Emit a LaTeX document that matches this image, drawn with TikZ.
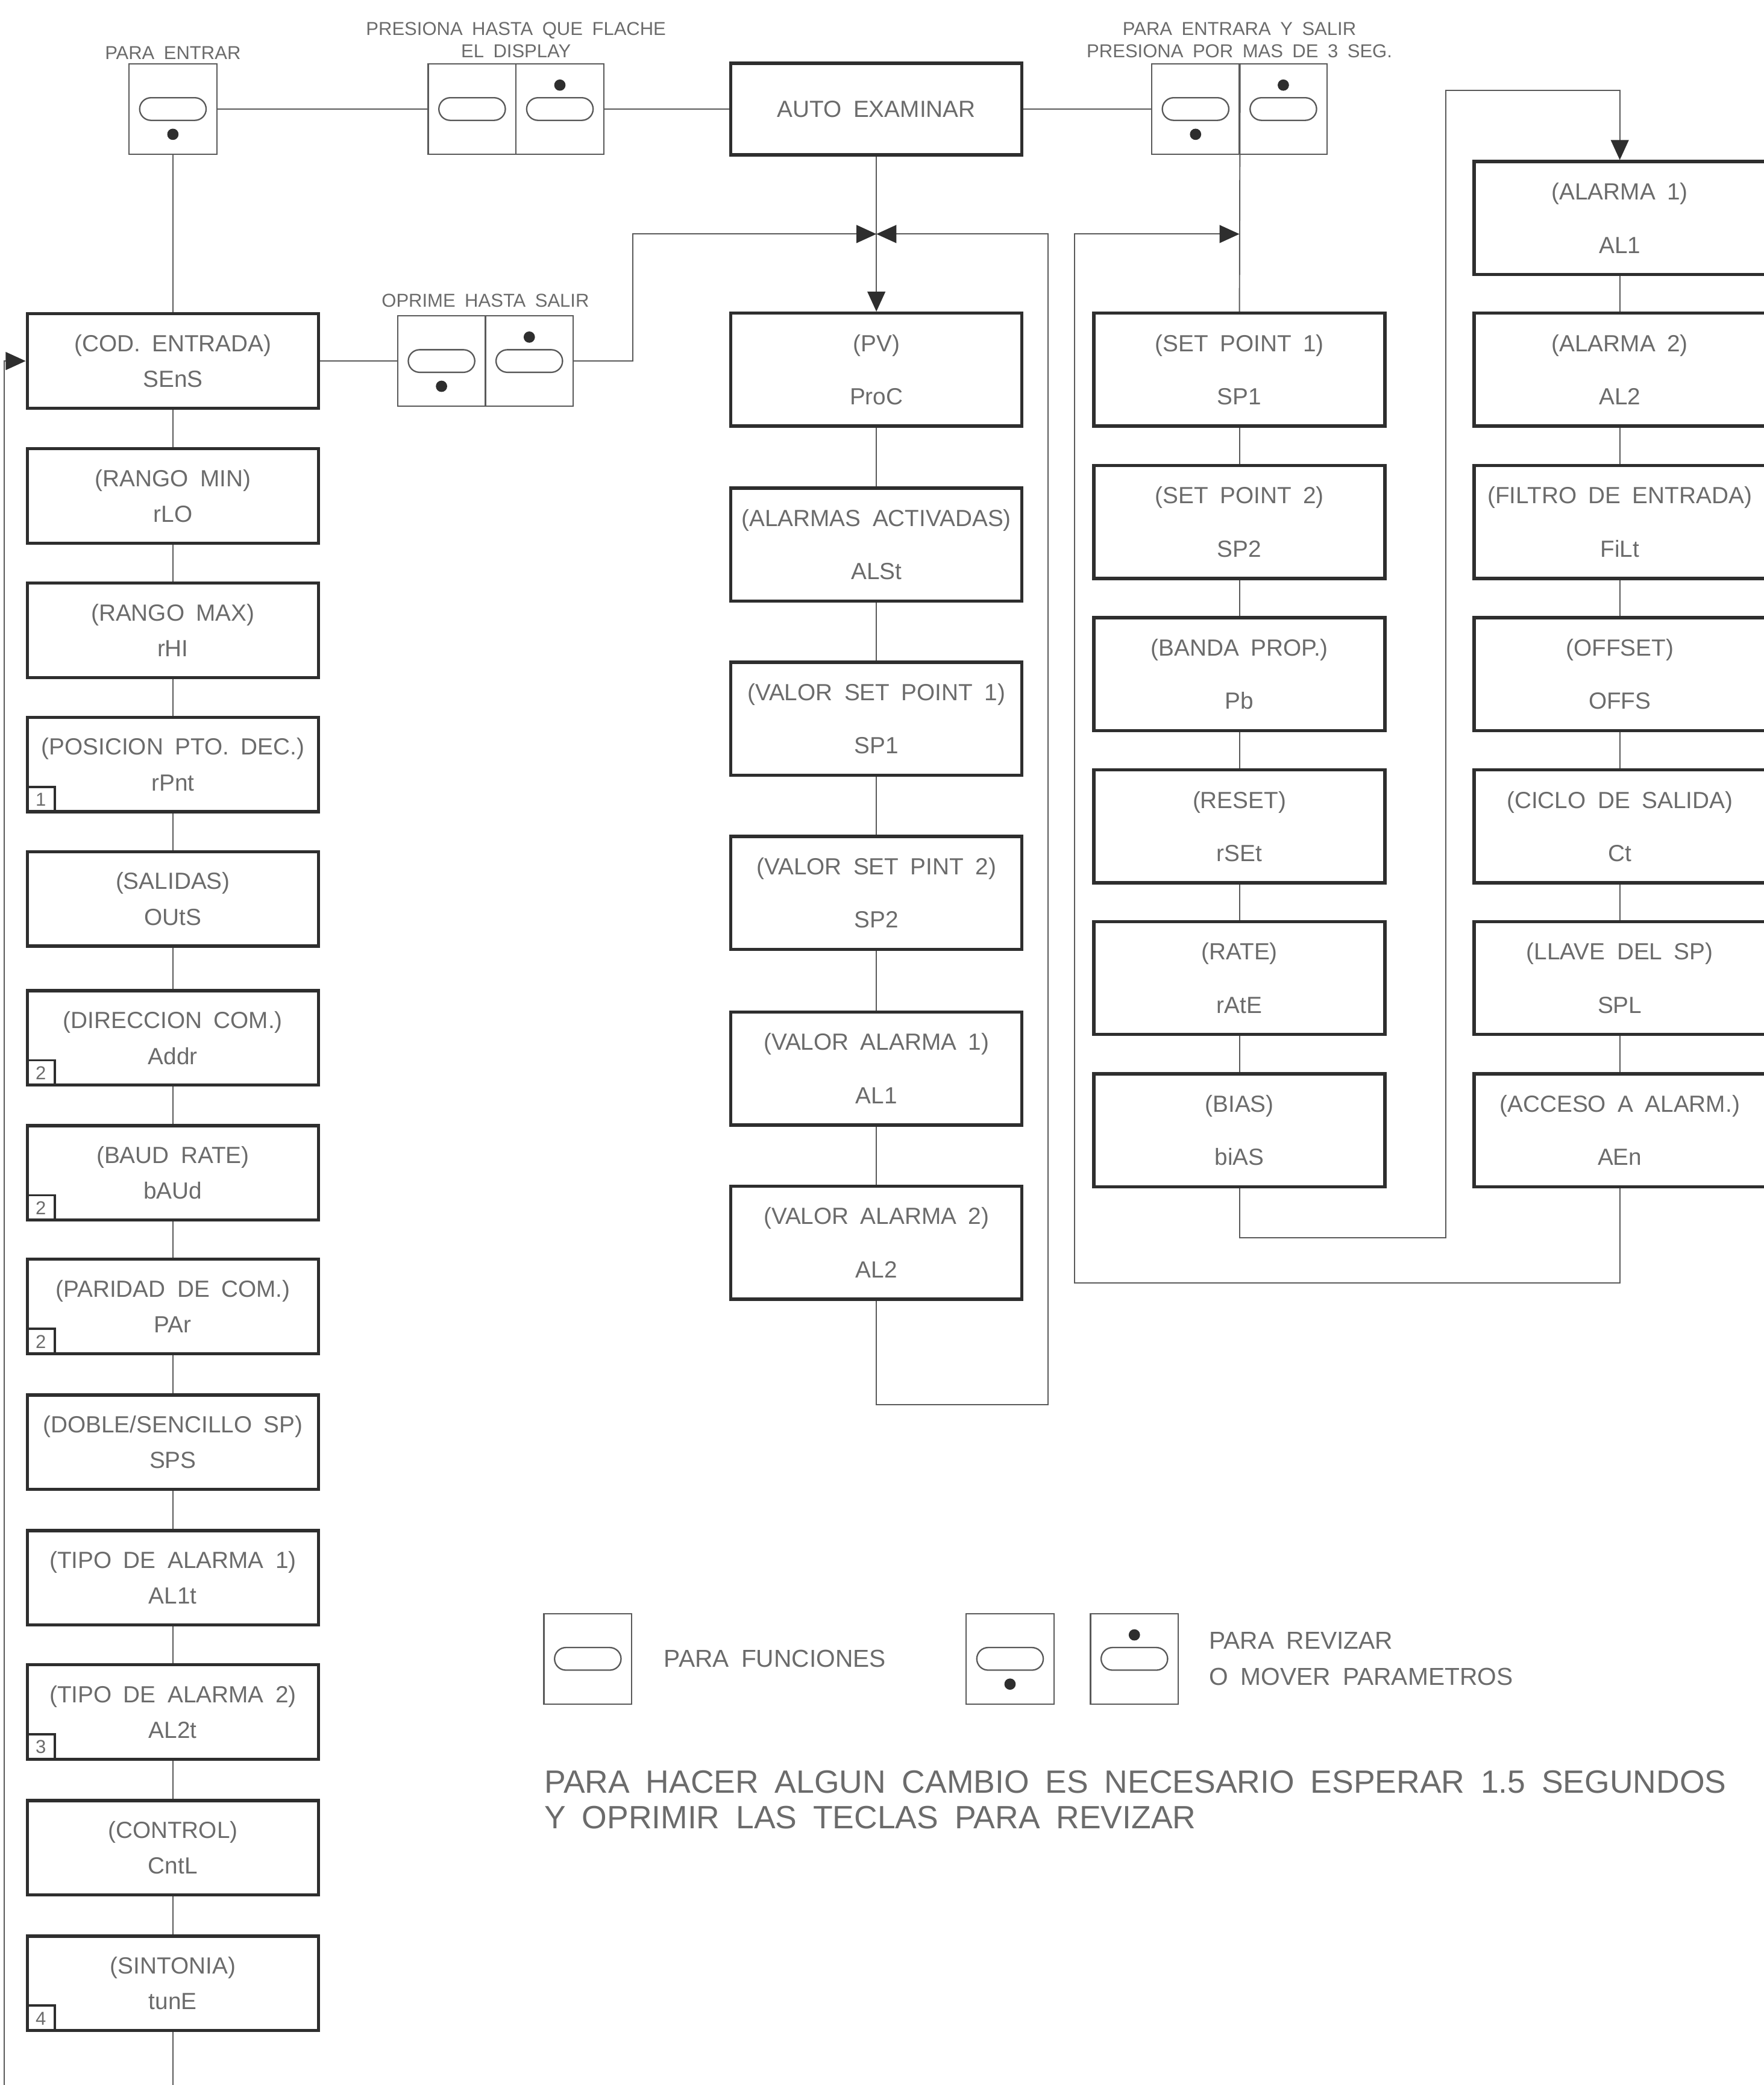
\documentclass[tikz,border=0pt]{standalone}
\usepackage{fontspec}
\setmainfont{Liberation Sans}[WordSpace=1.8]
\usetikzlibrary{
  arrows.meta,
  calc
}
\definecolor{boxline}{gray}{0.18}
\definecolor{wire}{gray}{0.35}
\definecolor{txt}{gray}{0.42}
\tikzset{
  param/.style={
    draw=boxline, line width=1.4pt, minimum width=4.38cm,
    inner sep=0pt, align=center, text=txt
  },
  short param/.style={
    param, minimum height=1.42cm, font=\fontsize{10}{15.4}\selectfont
  },
  tall param/.style={
    param, minimum height=1.7cm, font=\fontsize{10}{22.8}\selectfont
  },
  badge/.style={
    draw=boxline, line width=1pt, anchor=south west,
    minimum width=0.42cm, minimum height=0.38cm, inner sep=0pt,
    text=txt, font=\fontsize{8}{9}\selectfont
  },
  keybox/.style={
    draw=wire, line width=0.6pt, minimum width=1.32cm,
    minimum height=1.36cm, inner sep=0pt
  },
  keyoval/.style={
    draw=wire, line width=0.6pt, rounded corners=0.17cm,
    minimum width=1cm, minimum height=0.34cm, inner sep=0pt
  },
  keydot/.style={
    circle, fill=boxline, inner sep=0pt, minimum size=0.17cm
  },
  hint/.style={
    text=txt, font=\fontsize{8}{9.7}\selectfont, align=center, inner sep=0pt
  },
  link/.style={draw=wire, line width=0.5pt},
  flow/.style={
    link, -{Triangle[length=0.3cm, width=0.27cm, color=boxline]}
  }
}

\begin{document}
\begin{tikzpicture}[x=0.02cm, y=-0.02cm]
\useasboundingbox (0,0) rectangle (1326,1568);

% keys on top
\node[hint] (hint-in) at (130,40) {PARA ENTRAR};
\node[keybox] (kin) at (130,82) {};
\node[keyoval] (kin-o) at (kin.center) {};
\node[keydot] (kin-d) at ($(kin.center)+(0,19)$) {};

\node[hint] (hint-flash) at (388,30) {PRESIONA HASTA QUE FLACHE\\EL DISPLAY};
\node[keybox] (kfa) at (355,82) {};
\node[keybox] (kfb) at (421,82) {};
\node[keyoval] (kfa-o) at (kfa.center) {};
\node[keyoval] (kfb-o) at (kfb.center) {};
\node[keydot] (kfb-d) at ($(kfb.center)+(0,-18)$) {};

\node[param, minimum height=1.38cm, font=\fontsize{10}{12}\selectfont] (auto) at (659,82) {AUTO EXAMINAR};

\node[hint] (hint-exit) at (932,30) {PARA ENTRARA Y SALIR\\PRESIONA POR MAS DE 3 SEG.};
\node[keybox] (kxa) at (899,82) {};
\node[keybox] (kxb) at (965,82) {};
\node[keyoval] (kxa-o) at (kxa.center) {};
\node[keyoval] (kxb-o) at (kxb.center) {};
\node[keydot] (kxa-d) at ($(kxa.center)+(0,19)$) {};
\node[keydot] (kxb-d) at ($(kxb.center)+(0,-18)$) {};

\node[hint] (hint-out) at (365,226) {OPRIME HASTA SALIR};
\node[keybox] (koa) at (332,271.5) {};
\node[keybox] (kob) at (398,271.5) {};
\node[keyoval] (koa-o) at (koa.center) {};
\node[keyoval] (kob-o) at (kob.center) {};
\node[keydot] (koa-d) at ($(koa.center)+(0,19)$) {};
\node[keydot] (kob-d) at ($(kob.center)+(0,-18)$) {};

% programming menu
\node[short param] (sens) at (130,271.5) {(COD. ENTRADA)\\SEnS};
\node[short param] (rlo)  at (130,373)   {(RANGO MIN)\\rLO};
\node[short param] (rhi)  at (130,474)   {(RANGO MAX)\\rHI};
\node[short param] (rpnt) at (130,575)   {(POSICION PTO. DEC.)\\rPnt};
\node[short param] (outs) at (130,676)   {(SALIDAS)\\OUtS};
\node[short param] (addr) at (130,780.5) {(DIRECCION COM.)\\Addr};
\node[short param] (baud) at (130,882)   {(BAUD RATE)\\bAUd};
\node[short param] (par)  at (130,982.5) {(PARIDAD DE COM.)\\PAr};
\node[short param] (sps)  at (130,1084.5) {(DOBLE/SENCILLO SP)\\SPS};
\node[short param] (alat) at (130,1186.5) {(TIPO DE ALARMA 1)\\AL1t};
\node[short param] (albt) at (130,1287.5) {(TIPO DE ALARMA 2)\\AL2t};
\node[short param] (cntl) at (130,1389.5) {(CONTROL)\\CntL};
\node[short param] (tune) at (130,1491.5) {(SINTONIA)\\tunE};

\node[badge] (bg-rpnt) at (rpnt.south west) {1};
\node[badge] (bg-addr) at (addr.south west) {2};
\node[badge] (bg-baud) at (baud.south west) {2};
\node[badge] (bg-par)  at (par.south west)  {2};
\node[badge] (bg-albt) at (albt.south west) {3};
\node[badge] (bg-tune) at (tune.south west) {4};

% operation menu
\node[tall param] (pv)   at (659,278)   {(PV)\\ProC};
\node[tall param] (alst) at (659,409.5) {(ALARMAS ACTIVADAS)\\ALSt};
\node[tall param] (vspa) at (659,540.5) {(VALOR SET POINT 1)\\SP1};
\node[tall param] (vspb) at (659,671.5) {(VALOR SET PINT 2)\\SP2};
\node[tall param] (vala) at (659,803.5) {(VALOR ALARMA 1)\\AL1};
\node[tall param] (valb) at (659,934.5) {(VALOR ALARMA 2)\\AL2};

% tuning menu
\node[tall param] (spa)  at (932,278)   {(SET POINT 1)\\SP1};
\node[tall param] (spb)  at (932,392.5) {(SET POINT 2)\\SP2};
\node[tall param] (pb)   at (932,507)   {(BANDA PROP.)\\Pb};
\node[tall param] (rset) at (932,621.5) {(RESET)\\rSEt};
\node[tall param] (rate) at (932,735.5) {(RATE)\\rAtE};
\node[tall param] (bias) at (932,850)   {(BIAS)\\biAS};

\node[tall param] (ala)  at (1218,164)   {(ALARMA 1)\\AL1};
\node[tall param] (alb)  at (1218,278)   {(ALARMA 2)\\AL2};
\node[tall param] (filt) at (1218,392.5) {(FILTRO DE ENTRADA)\\FiLt};
\node[tall param] (offs) at (1218,507)   {(OFFSET)\\OFFS};
\node[tall param] (ct)   at (1218,621.5) {(CICLO DE SALIDA)\\Ct};
\node[tall param] (spl)  at (1218,735.5) {(LLAVE DEL SP)\\SPL};
\node[tall param] (aen)  at (1218,850)   {(ACCESO A ALARM.)\\AEn};

% connectors
\coordinate (j1) at (659,176);
\coordinate (j2) at (932,176);
\coordinate (loop-end) at (3,1568);

\draw[link] (kin) -- (kfa);
\draw[link] (kfb) -- (auto);
\draw[link] (auto) -- (kxa);
\draw[link] (kin) -- (sens);
\draw[link] (sens) -- (koa);
\draw[link] (kxa.north east) -- (spa.north);

\foreach \a/\b in {sens/rlo, rlo/rhi, rhi/rpnt, rpnt/outs, outs/addr, addr/baud,
  baud/par, par/sps, sps/alat, alat/albt, albt/cntl, cntl/tune,
  pv/alst, alst/vspa, vspa/vspb, vspb/vala, vala/valb,
  spa/spb, spb/pb, pb/rset, rset/rate, rate/bias,
  ala/alb, alb/filt, filt/offs, offs/ct, ct/spl, spl/aen}
  \draw[link] (\a) -- (\b);

\draw[flow] (auto) -- (pv);
\draw[flow] (kob.east) -| (476,176) -- (j1);
\draw[flow] (valb.south) -- ++(0,78) -| (788,176) -- (j1);
\draw[flow] (aen.south) -- ++(0,71) -| (808,176) -- (j2);
\draw[flow] (bias.south) -- ++(0,37) -| (1087,68) -| (ala.north);
\draw[link] (tune) -- (tune |- loop-end);
\draw[flow] (loop-end) |- (sens.west);

% legend
\node[keybox] (lg-f) at (442,1247.5) {};
\node[keyoval] (lg-f-o) at (lg-f.center) {};
\node[hint, anchor=west, font=\fontsize{10.5}{12}\selectfont] (lg-f-t) at (499,1247.5) {PARA FUNCIONES};

\node[keybox] (lg-a) at (759.5,1247.5) {};
\node[keyoval] (lg-a-o) at (lg-a.center) {};
\node[keydot] (lg-a-d) at ($(lg-a.center)+(0,19)$) {};
\node[keybox] (lg-b) at (853,1247.5) {};
\node[keyoval] (lg-b-o) at (lg-b.center) {};
\node[keydot] (lg-b-d) at ($(lg-b.center)+(0,-18)$) {};
\node[hint, anchor=west, align=left, font=\fontsize{10.5}{15.4}\selectfont] (lg-b-t) at (909,1247.5) {PARA REVIZAR\\O MOVER PARAMETROS};

\node[hint, anchor=west, align=left, font=\fontsize{13.8}{15.4}\selectfont] (note) at (409,1353.5)
  {PARA HACER ALGUN CAMBIO ES NECESARIO ESPERAR 1.5 SEGUNDOS\\Y OPRIMIR LAS TECLAS PARA REVIZAR};
\end{tikzpicture}
\end{document}
